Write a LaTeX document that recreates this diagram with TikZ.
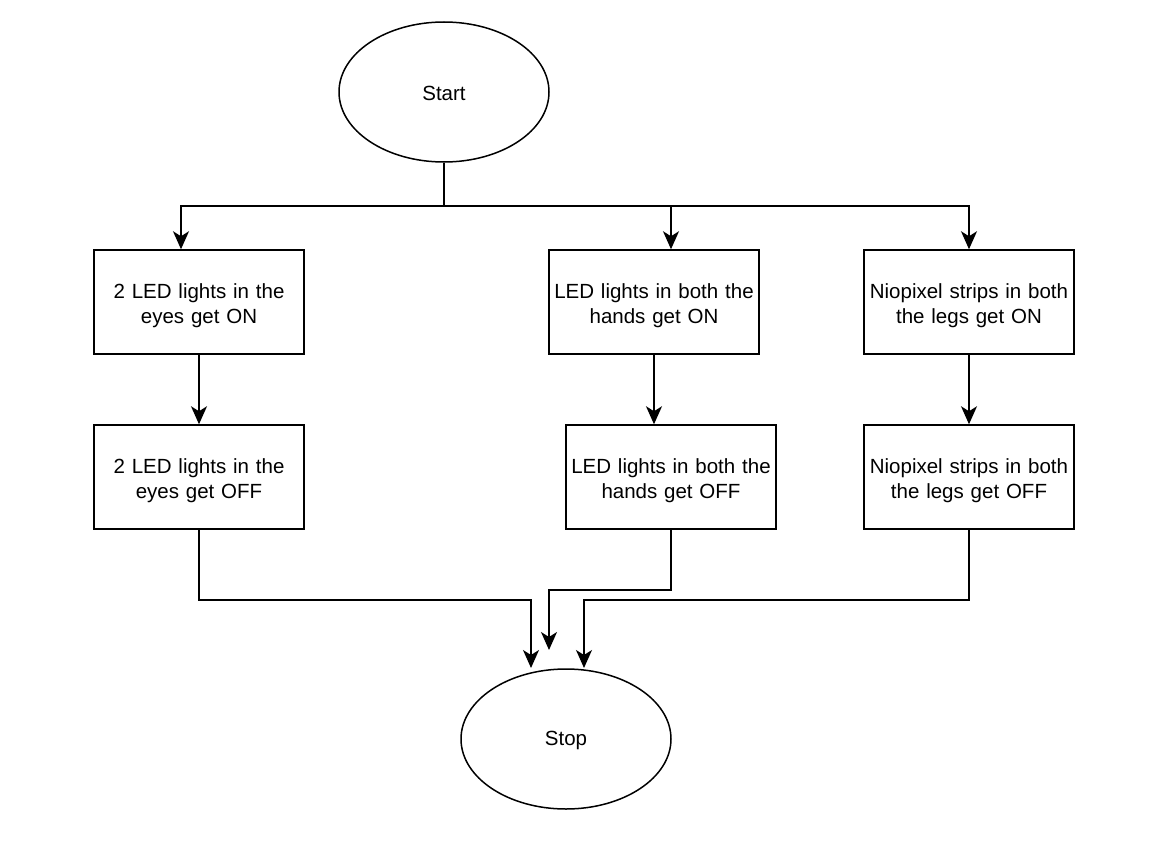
\documentclass[tikz,border=0pt]{standalone}
\usepackage{fontspec}
\setmainfont{Liberation Sans}
\usetikzlibrary{arrows.meta,shapes.geometric}
\newcommand{\lowstrut}{\rule{0pt}{21.5pt}}
\newcommand{\onestrut}{\rule{0pt}{17pt}}
\begin{document}
\begin{tikzpicture}[x=1pt,y=-1pt,
  every node/.style={font=\fontsize{20.5}{25}\selectfont},
  term/.style={draw,ellipse,line width=1.5pt,minimum width=210pt,minimum height=140pt,inner sep=0pt},
  stepbox/.style={draw,rectangle,line width=1.5pt,minimum width=210pt,minimum height=104pt,inner sep=0pt,text width=205pt,align=center},
  conn/.style={line width=1.5pt},
  arr/.style={line width=1.5pt,-{Stealth[length=18pt,width=16pt,inset=5pt]}}]
\fill[white] (0,0) rectangle (1151,843);
\useasboundingbox (0,0) rectangle (1151,843);
\node[term] (start) at (444,92) {\onestrut Start};
\node[term] (stop) at (566,739) {\onestrut Stop};
\node[stepbox] (b1) at (199,302) {\lowstrut 2 LED lights in the\\eyes get ON};
\node[stepbox] (b2) at (654,302) {\lowstrut LED lights in both the\\hands get ON};
\node[stepbox] (b3) at (969,302) {\lowstrut Niopixel strips in both\\the legs get ON};
\node[stepbox] (b4) at (199,477) {\lowstrut 2 LED lights in the\\eyes get OFF};
\node[stepbox] (b5) at (671,477) {\lowstrut LED lights in both the\\hands get OFF};
\node[stepbox] (b6) at (969,477) {\lowstrut Niopixel strips in both\\the legs get OFF};
\coordinate (j) at (444,206);
\coordinate (e1) at (531,668);
\coordinate (e2) at (549,650);
\coordinate (e3) at (584,668);
\draw[conn] (start.south) -- (j);
\draw[arr] (j) -| ([xshift=-18pt]b1.north);
\draw[arr] (j) -| ([xshift=17pt]b2.north);
\draw[arr] (j) -| (b3.north);
\draw[arr] (b1.south) -- (b4.north);
\draw[arr] (b2.south) -- (b2.south |- b5.north);
\draw[arr] (b3.south) -- (b6.north);
\draw[arr] (b4.south) |- (531,600) -- (e1);
\draw[arr] (b5.south) |- (549,590) -- (e2);
\draw[arr] (b6.south) |- (584,600) -- (e3);
\end{tikzpicture}
\end{document}
